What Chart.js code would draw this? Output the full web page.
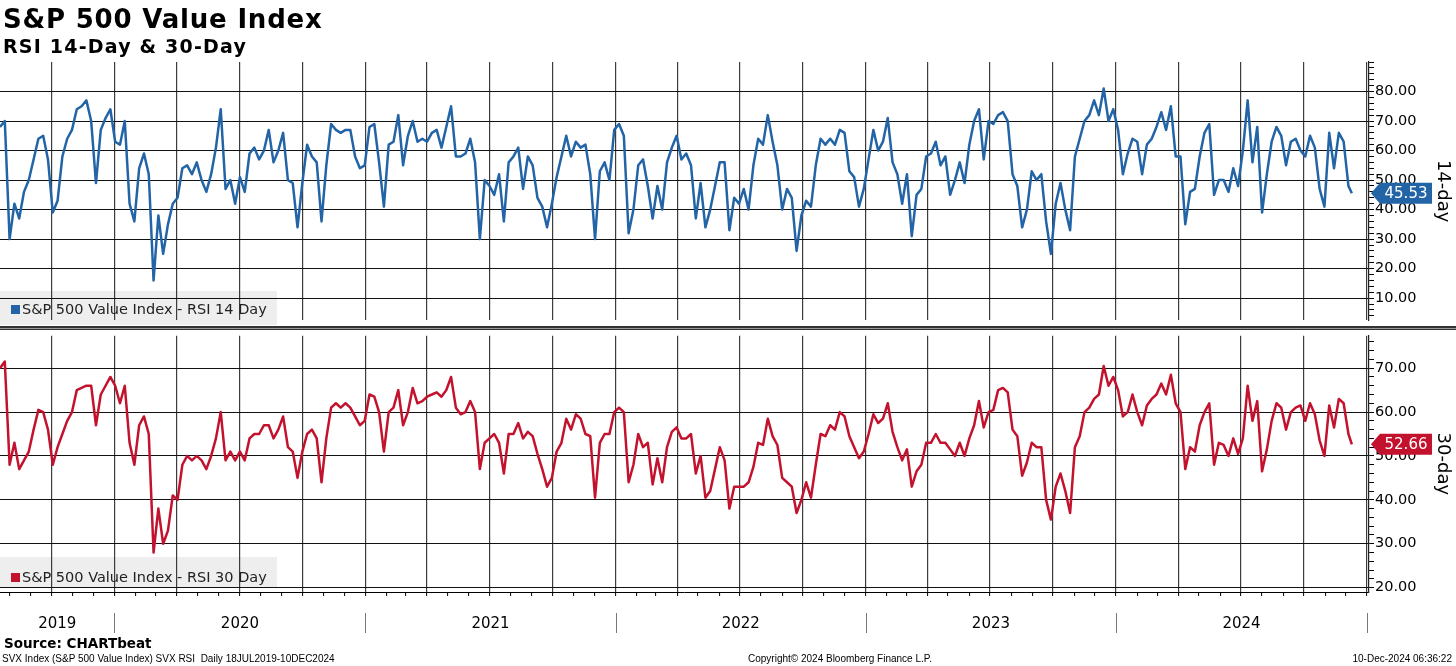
<!DOCTYPE html>
<html>
<head>
<meta charset="utf-8">
<script src="https://cdn.jsdelivr.net/npm/chart.js@4.4.1/dist/chart.umd.min.js"></script>
<style>
body { margin:0; background:#fff; width:1456px; height:666px; overflow:hidden; position:relative; font-family:"DejaVu Sans", sans-serif; }
canvas { position:absolute; left:0; }
#topChart { top:0; }
#bottomChart { top:326px; }
.txt { position:absolute; white-space:nowrap; color:#000; z-index:2; }
#title { left:3px; top:6px; font:bold 26px/26px "DejaVu Sans"; letter-spacing:0.8px; }
#subtitle { left:3px; top:37px; font:bold 19px/19px "DejaVu Sans"; letter-spacing:1.2px; }
#source { left:4px; top:637px; font:bold 13.5px/13.5px "DejaVu Sans"; }
.foot { top:654px; font:10px/10px "Liberation Sans"; }
#sep { position:absolute; left:0; top:326px; width:1456px; height:1px; background:#999; border-top:2px solid #333; border-bottom:1px solid #333; z-index:2; }
</style>
</head>
<body>
<div id="title" class="txt">S&amp;P 500 Value Index</div>
<div id="subtitle" class="txt">RSI 14-Day &amp; 30-Day</div>
<canvas id="topChart" width="1456" height="330"></canvas>
<canvas id="bottomChart" width="1456" height="340"></canvas>
<div id="sep"></div>
<div id="source" class="txt">Source: CHARTbeat</div>
<div class="txt foot" style="left:2px">SVX Index (S&amp;P 500 Value Index) SVX RSI&nbsp; Daily 18JUL2019-10DEC2024</div>
<div class="txt foot" style="left:748px">Copyright© 2024 Bloomberg Finance L.P.</div>
<div class="txt foot" style="right:4px">10-Dec-2024 06:36:22</div>
<script>
// weekly readings starting on the first day of the chart
const startDate = '2019-07-18';
const lastDate = '2024-12-10';
const axisEnd = '2025-01-04';

const rsi14 = [
  68, 70, 30, 42, 37, 46, 50, 57, 64, 65,
  57, 39, 43, 58, 64, 67, 74, 75, 77, 70,
  49, 67, 71, 74, 63, 62, 70, 42, 36, 54,
  59, 52, 16, 38, 25, 35, 42, 44, 54, 55,
  52, 56, 50, 46, 52, 61, 74, 47, 50, 42,
  51, 46, 59, 61, 57, 60, 67, 56, 60, 66,
  50, 49, 34, 49, 62, 58, 56, 36, 55, 69,
  67, 66, 67, 67, 58, 54, 55, 68, 69, 56,
  41, 62, 63, 72, 55, 65, 70, 63, 64, 63,
  66, 67, 61, 68, 75, 58, 58, 59, 64, 56,
  30, 50, 48, 45, 52, 36, 56, 58, 61, 47,
  58, 55, 44, 41, 34, 42, 51, 58, 65, 58,
  63, 61, 62, 52, 30, 53, 56, 50, 67, 69,
  65, 32, 40, 55, 57, 48, 37, 48, 40, 56,
  61, 65, 57, 59, 55, 37, 49, 34, 40, 48,
  56, 56, 33, 44, 42, 47, 40, 55, 64, 62,
  72, 63, 55, 40, 47, 44, 26, 38, 43, 41,
  55, 64, 62, 64, 62, 67, 66, 53, 51, 41,
  47, 57, 67, 60, 63, 71, 56, 52, 42, 52,
  31, 45, 47, 58, 59, 63, 55, 58, 45, 50,
  56, 49, 62, 70, 74, 57, 70, 69, 72, 73,
  70, 52, 48, 34, 40, 53, 50, 52, 36, 25,
  42, 49, 40, 33, 58, 64, 70, 72, 77, 72,
  81, 70, 74, 67, 52, 59, 64, 63, 52, 62,
  64, 68, 73, 67, 75, 58, 58, 35, 46, 47,
  58, 66, 69, 45, 50, 50, 46, 54, 48, 60,
  77, 56, 68, 39, 52, 63, 68, 65, 55, 63,
  64, 60, 58, 65, 61, 47, 41, 66, 54, 66,
  63, 48
];
const rsi30 = [
  70, 71.5, 48, 53, 47, 49, 51, 56, 60.5, 60,
  56, 48, 52, 55, 58, 60, 65, 65.5, 66, 66,
  57, 64, 66, 68, 66, 62, 66, 53, 48, 57,
  59, 55, 28, 38, 30, 33, 41, 40, 48, 50,
  49, 50, 49, 47, 50, 54, 60, 49, 51, 49,
  51, 49, 54, 55, 55, 57, 57, 54, 56, 59,
  52, 51, 45, 51, 55, 56, 54, 44, 54, 61,
  62, 61, 62, 61, 59, 57, 58, 64, 63.5, 60,
  51, 60, 61, 65, 57, 60, 65.5, 62, 62.5, 63.5,
  64, 64.5, 63.5, 65, 68, 61, 59.5, 60, 62.5, 60,
  47, 53, 54, 55, 53, 46, 55, 55, 57.5, 54,
  55.5, 54.5, 50.5, 47, 43, 45, 51, 53, 58.5, 56,
  59.5, 58.5, 55, 54.5, 40.5, 53, 55, 55, 60, 61,
  60, 44, 48, 55, 52, 53, 43.5, 49.5, 44, 52,
  55.5, 56.5, 54, 54, 55, 46, 50, 40.5, 42, 47,
  52, 49, 38, 43, 43, 43, 44, 47.5, 53, 52.5,
  58.5, 54.5, 52.5, 45, 44, 43, 37, 40, 44, 40.5,
  48, 55, 54.5, 57, 56, 60, 59, 54.5, 52, 49.5,
  51, 55, 59.5, 57.5, 58.5, 62, 55.5, 52, 49, 51.5,
  43, 46.5, 48, 53, 53, 55, 53, 53, 51.5, 50,
  53, 50, 54, 57, 62.5, 56.5, 60, 60.5, 65, 65.5,
  64.5, 56, 54.5, 45.5, 48.5, 53, 52, 52, 40, 35.5,
  43, 46, 42, 37, 52, 54.5, 60, 61, 63, 64,
  70.5, 66, 68, 65, 59, 60, 64, 60, 57, 61.5,
  63, 64, 66.5, 64, 68.5, 62, 60, 47, 52, 51,
  57, 60, 62, 48, 53, 52.5, 50, 54, 50.5, 54,
  66, 58, 62.5, 46.5, 51.5, 58, 62, 61, 56, 60,
  61, 61.5, 58, 62, 59.5, 53.5, 50, 61.5, 56.5, 63,
  62, 55
];
const last14 = 45.53;
const last30 = 52.66;

const ticks14 = [10, 20, 30, 40, 50, 60, 70, 80];
const ticks30 = [20, 30, 40, 50, 60, 70];
const yearLabels = ['2019', '2020', '2021', '2022', '2023', '2024'];

const BLUE = '#2264a6';
const RED = '#c3122d';
const GRID_V = '#3c3c3c';

function dayOf(iso) {
  return Math.round((Date.parse(iso) - Date.parse(startDate)) / 86400000);
}
const xMax = dayOf(axisEnd);

function toPoints(vals, lastVal) {
  const pts = vals.map((v, i) => ({ x: i * 7, y: v }));
  pts.push({ x: dayOf(lastDate), y: lastVal });
  return pts;
}

// month starts inside the axis range, quarters get a grid line
const months = [];
const quarters = new Set();
for (let y = 2019; y <= 2025; y++) {
  for (let m = 0; m < 12; m++) {
    const d = dayOf(y + '-' + String(m + 1).padStart(2, '0') + '-01');
    if (d > 0 && d <= xMax) {
      months.push(d);
      if (m % 3 === 0) quarters.add(d);
    }
  }
}

function minorTicks(min, max) {
  const out = [];
  for (let v = Math.ceil(min / 2) * 2; v <= max; v += 2) out.push({ value: v });
  return out;
}

// gray legend box behind the grid, text on top
function legendPlugin(label, color, boxTop, boxBottom, baseline) {
  return {
    id: 'legendBox',
    beforeDraw(chart) {
      const ctx = chart.ctx;
      ctx.save();
      ctx.fillStyle = '#eeeeee';
      ctx.fillRect(0, boxTop, 277, boxBottom - boxTop);
      ctx.restore();
    },
    afterDraw(chart) {
      const ctx = chart.ctx;
      ctx.save();
      ctx.fillStyle = color;
      ctx.fillRect(11, baseline - 9, 9, 9);
      ctx.fillStyle = '#222';
      ctx.font = '14.5px "DejaVu Sans"';
      ctx.textBaseline = 'alphabetic';
      ctx.fillText(label, 22, baseline);
      ctx.restore();
    }
  };
}

// last value tag and rotated axis name on the right
function rightSidePlugin(name, lastVal, color) {
  return {
    id: 'rightSide',
    afterDraw(chart) {
      const ctx = chart.ctx;
      const area = chart.chartArea;
      const y = chart.scales.y.getPixelForValue(lastVal);
      const x = area.right + 2;
      ctx.save();
      ctx.fillStyle = color;
      ctx.beginPath();
      ctx.moveTo(x, y);
      ctx.lineTo(x + 9, y - 10.5);
      ctx.lineTo(x + 61, y - 10.5);
      ctx.lineTo(x + 61, y + 10.5);
      ctx.lineTo(x + 9, y + 10.5);
      ctx.closePath();
      ctx.fill();
      ctx.fillStyle = '#fff';
      ctx.font = '15px "DejaVu Sans"';
      ctx.textAlign = 'center';
      ctx.textBaseline = 'middle';
      ctx.fillText(lastVal.toFixed(2), x + 35, y + 1);

      ctx.translate(1443, (area.top + area.bottom) / 2);
      ctx.rotate(Math.PI / 2);
      ctx.fillStyle = '#000';
      ctx.font = '18px "DejaVu Sans"';
      ctx.fillText(name, 0, 0);
      ctx.restore();
    }
  };
}

const yearPlugin = {
  id: 'years',
  afterDraw(chart) {
    const ctx = chart.ctx;
    const xs = chart.scales.x;
    ctx.save();
    ctx.strokeStyle = '#777';
    ctx.lineWidth = 1;
    ctx.fillStyle = '#000';
    ctx.font = '15px "DejaVu Sans"';
    ctx.textAlign = 'center';
    ctx.textBaseline = 'middle';
    yearLabels.forEach((yr) => {
      const s = Math.max(0, dayOf(yr + '-01-01'));
      const e = Math.min(xMax, dayOf((+yr + 1) + '-01-01'));
      const xe = Math.round(xs.getPixelForValue(e)) + 0.5;
      ctx.beginPath();
      ctx.moveTo(xe, 287);
      ctx.lineTo(xe, 307);
      ctx.stroke();
      ctx.fillText(yr, (xs.getPixelForValue(s) + xs.getPixelForValue(e)) / 2, 298);
    });
    ctx.restore();
  }
};

function makeChart(id, cfg) {
  return new Chart(document.getElementById(id), {
    type: 'line',
    data: {
      datasets: [{
        data: cfg.points,
        borderColor: cfg.color,
        borderWidth: 2.5,
        borderJoinStyle: 'round',
        pointRadius: 0,
        tension: 0
      }]
    },
    options: {
      responsive: false,
      animation: false,
      devicePixelRatio: 1,
      layout: { padding: { top: cfg.padTop, left: 0, right: 0, bottom: 0 } },
      plugins: { legend: { display: false }, tooltip: { enabled: false } },
      scales: {
        x: {
          type: 'linear',
          min: 0,
          max: xMax,
          afterBuildTicks: (s) => {
            s.ticks = (cfg.monthTicks ? months : [...quarters]).map((v) => ({ value: v }));
          },
          afterFit: (s) => { s.height = cfg.xHeight; },
          ticks: { display: false },
          grid: {
            color: (c) => (c.tick && quarters.has(c.tick.value) ? GRID_V : 'rgba(0,0,0,0)'),
            lineWidth: 1.2,
            drawTicks: cfg.monthTicks,
            tickLength: 4,
            tickColor: '#000',
            tickWidth: 1
          },
          border: { display: cfg.monthTicks, color: '#000', width: 1 }
        },
        y: {
          position: 'right',
          min: cfg.yMin,
          max: cfg.yMax,
          afterBuildTicks: (s) => { s.ticks = minorTicks(cfg.yMin, cfg.yMax); },
          afterFit: (s) => { s.width = 87; },
          ticks: {
            autoSkip: false,
            padding: 1,
            color: '#000',
            font: { family: 'DejaVu Sans', size: 14.5 },
            callback: (v) => (cfg.majors.includes(v) ? v.toFixed(2) : '')
          },
          grid: {
            color: (c) => (c.tick && cfg.majors.includes(c.tick.value) ? '#111' : 'rgba(0,0,0,0)'),
            lineWidth: 1,
            tickLength: 5,
            tickColor: '#000'
          },
          border: { display: true, color: '#222', width: 1.2 }
        }
      }
    },
    plugins: cfg.plugins
  });
}

makeChart('topChart', {
  points: toPoints(rsi14, last14),
  color: BLUE,
  padTop: 62,
  xHeight: 4,
  monthTicks: false,
  yMin: 2.5,
  yMax: 90,
  majors: ticks14,
  plugins: [
    legendPlugin('S&P 500 Value Index - RSI 14 Day', BLUE, 291, 325, 314),
    rightSidePlugin('14-day', last14, BLUE)
  ]
});

makeChart('bottomChart', {
  points: toPoints(rsi30, last30),
  color: RED,
  padTop: 4,
  xHeight: 74,
  monthTicks: true,
  yMin: 19,
  yMax: 77.4,
  majors: ticks30,
  plugins: [
    legendPlugin('S&P 500 Value Index - RSI 30 Day', RED, 557 - 326, 588 - 326, 582 - 326),
    rightSidePlugin('30-day', last30, RED),
    yearPlugin
  ]
});
</script>
</body>
</html>
